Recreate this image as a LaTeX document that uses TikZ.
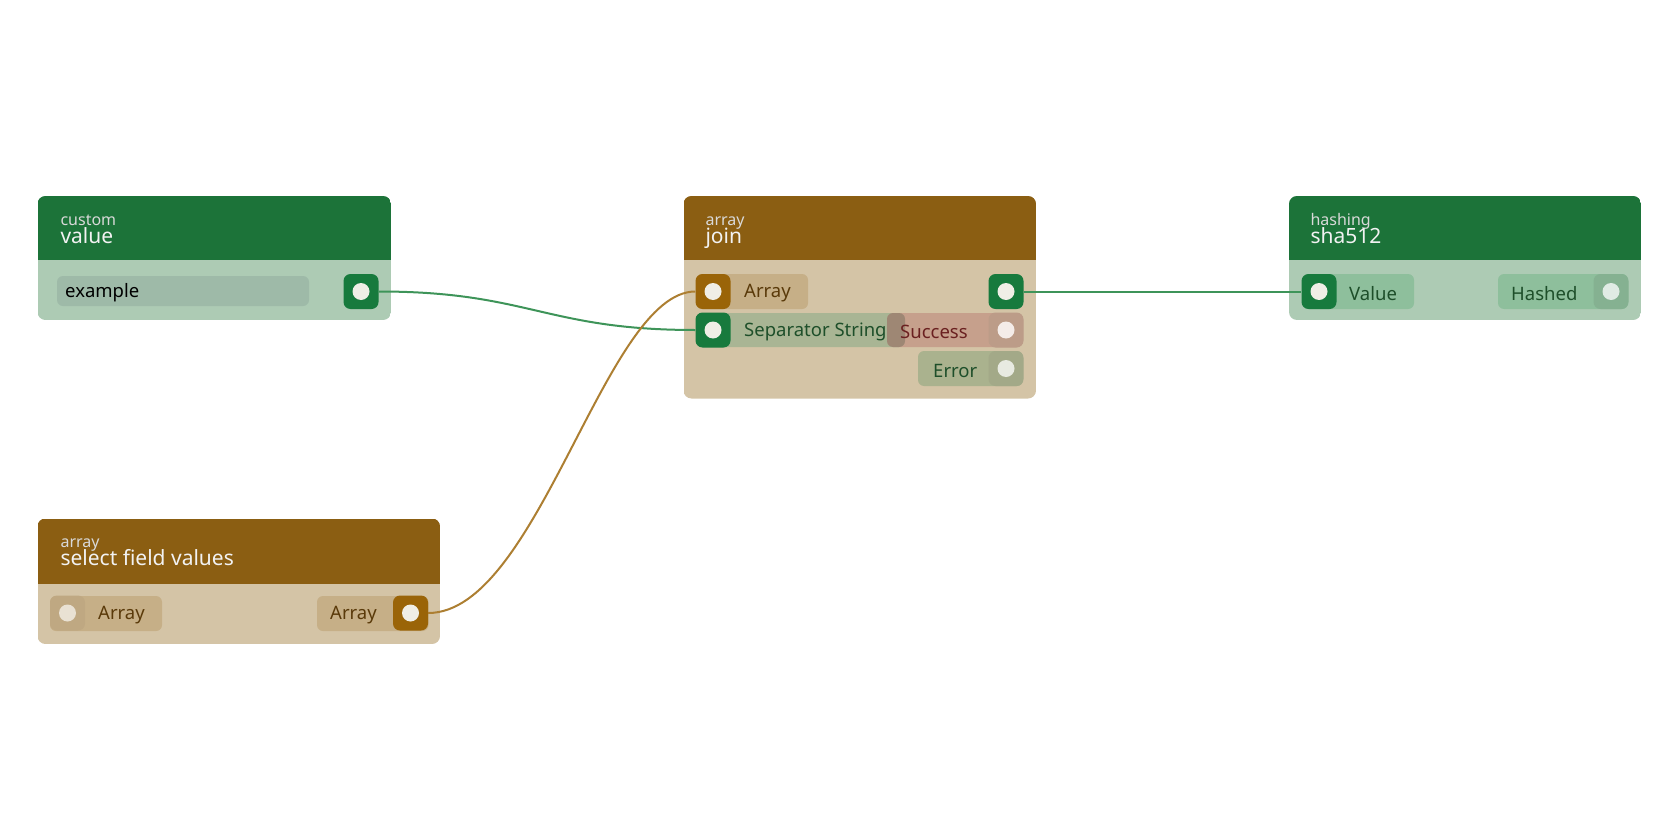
\documentclass[tikz,border=0pt]{standalone}
\usepackage{fontspec}
\setmainfont{Noto Sans}
\usetikzlibrary{positioning}
\definecolor{grnhead}{HTML}{1C7339}
\definecolor{grnbody}{HTML}{ADCBB4}
\definecolor{brnhead}{HTML}{8B5E12}
\definecolor{brnbody}{HTML}{D4C4A6}
\definecolor{grnport}{HTML}{177A3D}
\definecolor{brnport}{HTML}{9A6408}
\definecolor{dotwhite}{HTML}{F0EEE6}
\definecolor{brnpill}{HTML}{C6AF87}
\definecolor{grnpill}{HTML}{A9B594}
\definecolor{fieldgrn}{HTML}{9EBAA8}
\definecolor{succpill}{HTML}{C6A08C}
\definecolor{succport}{HTML}{BC9C88}
\definecolor{errpill}{HTML}{AAB28E}
\definecolor{errport}{HTML}{A3A988}
\definecolor{valpill}{HTML}{8EBF9C}
\definecolor{hashport}{HTML}{85B191}
\definecolor{inport}{HTML}{BFA882}
\definecolor{brntext}{HTML}{5A3A0A}
\definecolor{grntext}{HTML}{1E4F2A}
\definecolor{redtext}{HTML}{6A2020}
\definecolor{grnwire}{HTML}{3E9459}
\definecolor{brnwire}{HTML}{AD7F32}
% card: x1, x2, top, header bottom, bottom, header colour, body colour
\newcommand\cardbox[7]{%
  \begin{scope}
    \clip[rounded corners=8] (#1,#3) rectangle (#2,#5);
    \fill[#7] (#1,#3) rectangle (#2,#5);
    \fill[#6] (#1,#3) rectangle (#2,#4);
  \end{scope}}
\begin{document}
\begin{tikzpicture}[x=1pt, y=-1pt,
    port/.style={rounded corners=7, minimum size=35pt, inner sep=0pt, fill=#1},
    dot/.style={circle, minimum size=17pt, inner sep=0pt, fill=#1},
    pill/.style={rounded corners=6},
    cat/.style={anchor=base west, text=white!85!black, font=\fontsize{16}{16}\selectfont},
    title/.style={anchor=base west, text=white!95!black, font=\fontsize{21}{21}\selectfont},
    lbl/.style={anchor=west, inner sep=0pt, yshift=-2pt, font=\fontsize{18.5}{18.5}\selectfont},
    wire/.style={line width=2pt}
]
\useasboundingbox (0,0) rectangle (1680,840);

% value card
\cardbox{37.5}{391}{196}{260}{320}{grnhead}{grnbody}
\node[cat] (valuecat) at (57,225) {custom};
\node[title] (valuetitle) at (57,243) {value};
\fill[pill, fieldgrn] (57,276) rectangle (309,306);
\node[lbl, text=black] (example) at (65,291) {example};
\node[port=grnport] (valueout) at (361,291.5) {};
\node[dot=dotwhite] at (valueout) {};

% join card
\cardbox{683.5}{1036}{196}{260}{398.5}{brnhead}{brnbody}
\node[cat] (joincat) at (702,225) {array};
\node[title] (jointitle) at (702,243) {join};
\fill[pill, brnpill] (696,274) rectangle (808,309);
\fill[pill, grnpill] (696,313) rectangle (905,347);
\fill[pill, succpill] (887,313) rectangle (1023,347);
\fill[pill, black!50!grnpill, opacity=.35] (887,313) rectangle (905,347);
\fill[pill, errpill] (918,351) rectangle (1023,386);
\node[port=brnport] (joinarray) at (713,291.5) {};
\node[dot=dotwhite] at (joinarray) {};
\node[port=grnport] (joinsep) at (713,330) {};
\node[dot=dotwhite] at (joinsep) {};
\node[port=grnport] (joinout) at (1006,291.5) {};
\node[dot=dotwhite] at (joinout) {};
\node[port=succport] (joinsucc) at (1006,330) {};
\node[dot=white!80!succpill] at (joinsucc) {};
\node[port=errport] (joinerr) at (1006,368.5) {};
\node[dot=white!75!errport] at (joinerr) {};
\node[lbl, text=brntext] at (744,291.5) {Array};
\node[lbl, text=grntext] at (744,330) {Separator String};
\node[lbl, text=redtext] at (900,330) {Success};
\node[lbl, text=grntext] at (933,368.5) {Error};

% sha512 card
\cardbox{1289}{1641}{196}{260}{320}{grnhead}{grnbody}
\node[cat] (shacat) at (1307,225) {hashing};
\node[title] (shatitle) at (1307,243) {sha512};
\fill[pill, valpill] (1302,274) rectangle (1414,309);
\fill[pill, valpill] (1498,274) rectangle (1628,309);
\node[port=grnport] (shain) at (1319,291.5) {};
\node[dot=dotwhite] at (shain) {};
\node[port=hashport] (shaout) at (1611,291.5) {};
\node[dot=white!75!hashport] at (shaout) {};
\node[lbl, text=grntext] at (1349,291.5) {Value};
\node[lbl, text=grntext] at (1511,291.5) {Hashed};

% select field values card
\cardbox{37.5}{440}{518.5}{584}{644}{brnhead}{brnbody}
\node[cat] (selcat) at (57,547) {array};
\node[title] (seltitle) at (57,565) {select field values};
\fill[pill, brnpill] (50,596) rectangle (162,631);
\fill[pill, brnpill] (317,596) rectangle (428.5,631);
\node[port=inport] (selin) at (67.5,613) {};
\node[dot=white!65!inport] at (selin) {};
\node[port=brnport] (selout) at (410.5,613) {};
\node[dot=dotwhite] at (selout) {};
\node[lbl, text=brntext] at (98,613) {Array};
\node[lbl, text=brntext] at (330,613) {Array};

% wires
\draw[wire, grnwire] (valueout.east) .. controls +(150,0) and +(-150,0) .. (joinsep.west);
\draw[wire, grnwire] (joinout.east) -- (shain.west);
\draw[wire, brnwire] (selout.east) .. controls +(110,0) and +(-90,0) .. (joinarray.west);
\end{tikzpicture}
\end{document}
